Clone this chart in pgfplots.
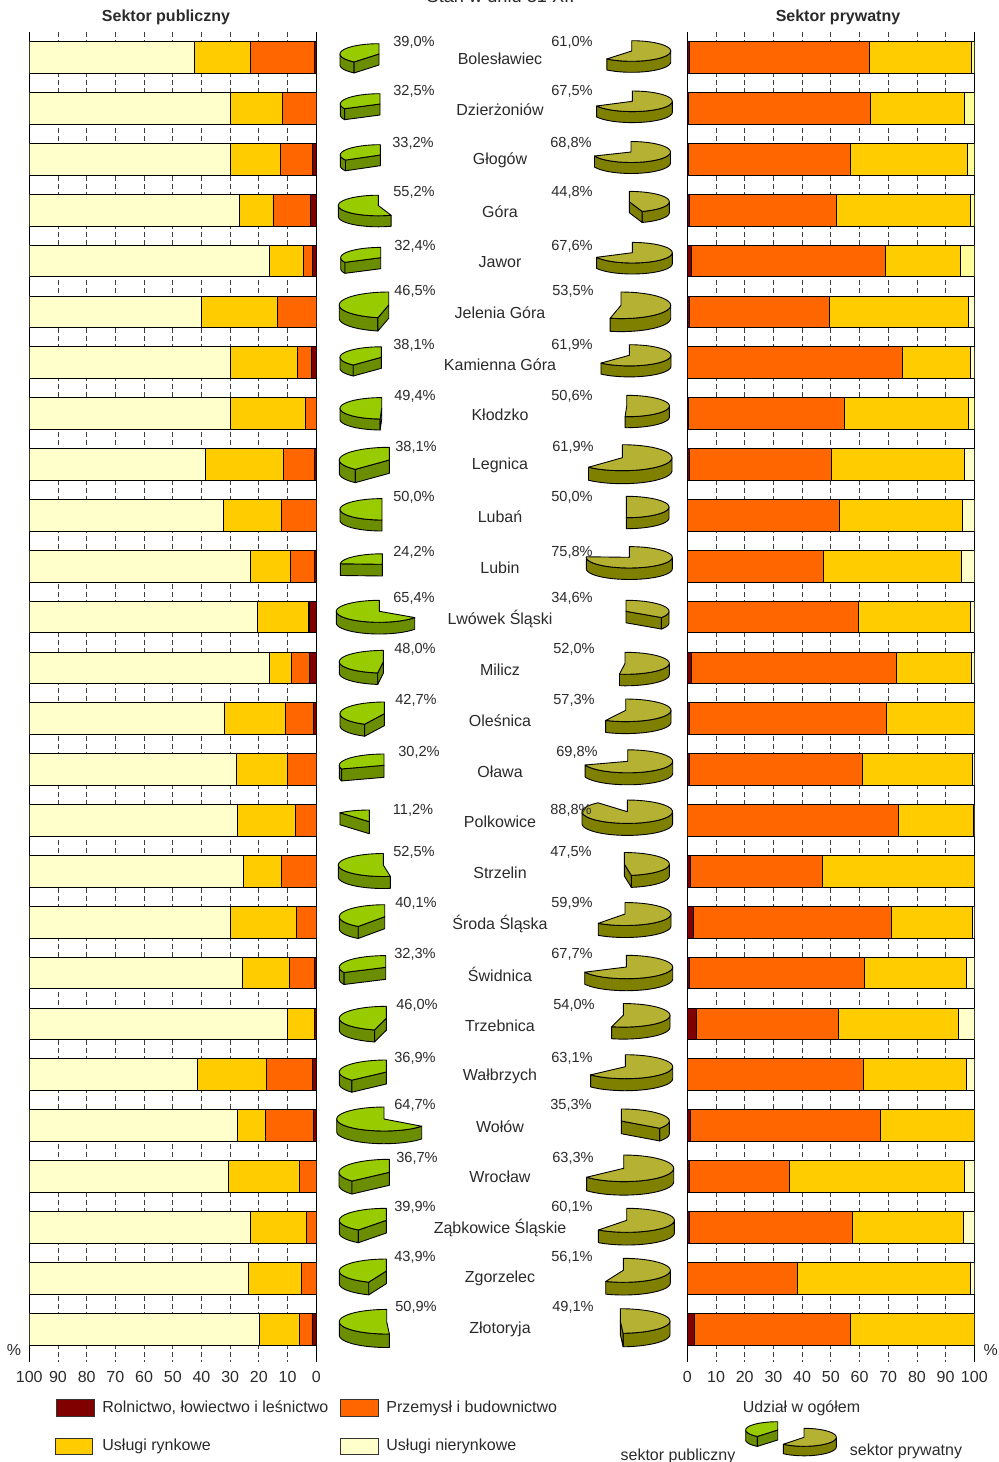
\documentclass[border=0pt]{standalone}
\usepackage{pgfplots}
\usepackage{pgfplotstable}
\usepackage{fontspec}
\setmainfont{Liberation Sans}
\pgfplotsset{compat=1.18}
\definecolor{cR}{HTML}{800000}
\definecolor{cP}{HTML}{FF6600}
\definecolor{cU}{HTML}{FFCC00}
\definecolor{cN}{HTML}{FFFFCC}
\definecolor{cY}{HTML}{FFFF99}
\definecolor{pubT}{HTML}{99CC00}
\definecolor{pubS}{HTML}{6B8E00}
\definecolor{priT}{HTML}{B5B233}
\definecolor{priS}{HTML}{808000}
\definecolor{txt}{HTML}{2A2A2A}
\pgfplotstableread{
row R P U N
0 0.7 22.3 19.5 57.5
1 0 11.8 18.2 70
2 1.3 11.2 17.5 70
3 2.0 13.1 11.8 73.1
4 1.3 3.2 11.9 83.6
5 0 13.6 26.5 59.9
6 1.7 4.9 23.4 70
7 0 3.9 26.1 70
8 0.5 11.1 27 61.4
9 0 12 20.5 67.5
10 0.6 8.5 13.9 77
11 2.4 0.4 17.6 79.6
12 2.3 6.4 7.7 83.6
13 1 9.8 21.2 68
14 0 10.1 17.7 72.2
15 0 7.2 20.1 72.7
16 0 12.2 13.1 74.7
17 0 7 23 70
18 0.5 8.8 16.3 74.4
19 0.5 0 9.7 89.8
20 1.2 16.2 23.9 58.7
21 1 16.8 9.8 72.4
22 0 5.7 25 69.3
23 0 3.3 19.7 77
24 0 5.1 18.4 76.5
25 1.5 4.4 13.8 80.3
}\tblpub
\pgfplotstableread{
row R P U N Y
0 0.7 62.9 35.4 0 1
1 0.4 63.5 32.8 0 3.3
2 0.4 56.5 40.7 0 2.4
3 0.7 51.3 46.7 0 1.3
4 1.4 67.5 26.1 0 5
5 0.7 48.7 48.6 2 0
6 0.1 74.9 23.7 1.3 0
7 0.4 54.5 43.2 0 1.9
8 0.7 49.5 46.5 3.3 0
9 0.2 52.8 43 4 0
10 0.2 47.2 48.2 4.4 0
11 0.2 59.3 39.2 1.3 0
12 1.5 71.3 26.2 1 0
13 0.8 68.7 30.5 0 0
14 0.7 60.4 38.2 0.7 0
15 0 73.6 26.1 0.3 0
16 1 46.2 52.8 0 0
17 2 69.1 28.2 0.7 0
18 0.8 60.8 35.6 2.8 0
19 3.1 49.6 41.8 5.5 0
20 0.2 61.1 35.9 2.8 0
21 1.2 66.2 32.6 0 0
22 0.6 35.1 61 3.3 0
23 0.8 56.8 38.6 3.8 0
24 0.2 38.2 60.3 1.3 0
25 2.4 54.6 43 0 0
}\tblpriv
\pgfplotsset{
  barax/.style={
    scale only axis, width=143.5pt, height=665pt,
    xbar stacked, bar width=15.85pt,
    xmin=0, xmax=100, ymin=-0.497, ymax=25.653, y dir=reverse,
    ytick=\empty, xtick={0,10,...,100},
    /pgf/number format/assume math mode=true,
    xmajorgrids, major grid style={black!75, line width=0.4pt, dash pattern=on 2.5pt off 1.5pt},
    xtick style={draw=none}, major tick length=0pt,
    separate axis lines,
    x axis line style={draw=none},
    y axis line style={black, line width=0.5pt},
    xticklabel style={font=\fontsize{8}{9.6}\selectfont, text=txt, anchor=north, yshift=-1.2pt},
  },
  bars/.style={draw=black, line width=0.45pt, fill=#1},
}
% sign cx cy rx ry d pct top side
\newcommand{\pie}[9]{%
  \ifdim #7pt>25pt
  \addplot[draw=black, line width=0.45pt, line join=round, fill=#9, domain=0:49, samples=50, variable=\t]
    ({#2 #1 #4*sin(90+(min(#7*3.6,270)-90)*(\t<24.5 ? \t : 49-\t)/24)},
     {#3-#5*cos(90+(min(#7*3.6,270)-90)*(\t<24.5 ? \t : 49-\t)/24)+(\t>24.5 ? #6 : 0)}) -- cycle;
  \fi
  \ifdim #7pt<50pt
  \addplot[draw=black, line width=0.45pt, line join=round, fill=#9, domain=0:3, samples=4, variable=\t]
    ({(\t>0.5 && \t<2.5) ? #2 #1 #4*sin(#7*3.6) : #2},
     {\t<0.5 ? #3 : (\t<1.5 ? #3-#5*cos(#7*3.6) : (\t<2.5 ? #3-#5*cos(#7*3.6)+#6 : #3+#6))}) -- cycle;
  \fi
  \addplot[draw=black, line width=0.45pt, line join=round, fill=#8, domain=0:31, samples=32, variable=\t]
    ({\t>30.5 ? #2 : #2 #1 #4*sin(#7*3.6*\t/30)},
     {\t>30.5 ? #3 : #3-#5*cos(#7*3.6*\t/30)}) -- cycle;
}
\newcommand{\pub}[6]{\pie{-}{#1}{#2}{#3}{#4}{#5}{#6}{pubT}{pubS}}
\newcommand{\pri}[6]{\pie{+}{#1}{#2}{#3}{#4}{#5}{#6}{priT}{priS}}
\newcommand{\lab}[3]{\node[anchor=base, inner sep=0pt, text=txt, font=\fontsize{8}{9.6}\selectfont] at (axis cs:#1,#2+6) {#3};}
\newcommand{\plab}[3]{\node[anchor=base, inner sep=0pt, text=txt, font=\fontsize{7.3}{8.8}\selectfont] at (axis cs:#1,#2+5.5) {#3};}
\newcommand{\swatch}[5]{\draw[black!80!white, line width=0.5pt, fill=#5] (axis cs:#1,#2) rectangle (axis cs:#3,#4);}
\begin{document}
\begin{tikzpicture}[x=1pt,y=1pt]
\useasboundingbox (0,0) rectangle (499.5pt,731pt);
\begin{axis}[barax, at={(14.65pt,49.85pt)}, anchor=south west, x dir=reverse]
\addplot[bars=cR] table[x=R,y=row]{\tblpub};
\addplot[bars=cP] table[x=P,y=row]{\tblpub};
\addplot[bars=cU] table[x=U,y=row]{\tblpub};
\addplot[bars=cN] table[x=N,y=row]{\tblpub};
\end{axis}
\begin{axis}[barax, at={(343.65pt,49.85pt)}, anchor=south west]
\addplot[bars=cR] table[x=R,y=row]{\tblpriv};
\addplot[bars=cP] table[x=P,y=row]{\tblpriv};
\addplot[bars=cU] table[x=U,y=row]{\tblpriv};
\addplot[bars=cN] table[x=N,y=row]{\tblpriv};
\addplot[bars=cY] table[x=Y,y=row]{\tblpriv};
\end{axis}
\begin{axis}[at={(0pt,0pt)}, anchor=south west, scale only axis, width=499.5pt, height=731pt,
  hide axis, xmin=0, xmax=999, ymin=0, ymax=1462, y dir=reverse, clip=false]
\pub{379}{54}{39}{10.3}{11}{39.0}
\pri{631.7}{51}{39}{10.3}{11}{61.0}
\pub{380}{104}{39.7}{10.3}{11}{32.5}
\pri{632.3}{101.3}{40}{10.3}{11}{67.5}
\pub{380.3}{155}{40}{10.3}{10.7}{33.2}
\pri{631}{152}{39.5}{10.5}{11}{68.8}
\pub{378.3}{205.5}{40}{10.3}{11}{55.2}
\pri{629.3}{201.7}{40}{10.3}{11}{44.8}
\pub{380.7}{257.7}{40}{10.3}{11}{32.4}
\pri{632.3}{252.7}{40}{10.3}{11}{67.6}
\pub{388.7}{305}{49.5}{13}{13.3}{46.5}
\pri{621}{305.3}{49.7}{13.3}{13}{53.5}
\pub{381.3}{357.3}{41.3}{10.5}{11}{38.1}
\pri{629.3}{355.3}{41.7}{10.6}{11}{61.9}
\pub{381.7}{408.3}{41.7}{10.7}{11}{49.4}
\pri{626.7}{406}{42.7}{10.7}{11}{50.6}
\pub{389.3}{460}{50}{12.7}{13.3}{38.1}
\pri{622.3}{457.7}{49.7}{13}{13}{61.9}
\pub{382}{509.3}{42}{10.7}{11}{50.0}
\pri{626.3}{507}{42.7}{10.7}{11}{50.0}
\pub{382.3}{564.3}{42}{10.5}{11.7}{24.2}
\pri{629.3}{557.3}{43}{10.7}{11.5}{75.8}
\pub{379.3}{611.3}{43}{11}{11.7}{65.4}
\pri{626}{611.3}{43}{11}{11.5}{34.6}
\pub{383.3}{661.7}{44}{11.3}{11.5}{48.0}
\pri{625}{663.3}{44.3}{11}{11.5}{52.0}
\pub{384.3}{713.7}{44.3}{11.7}{12}{42.7}
\pri{625.7}{710.3}{45.3}{11.3}{12}{57.3}
\pub{384}{765.3}{44.7}{11.3}{12}{30.2}
\pri{627.7}{761.3}{45}{11.5}{12}{69.8}
\pub{369.3}{821.7}{45.3}{11.7}{12}{11.2}
\pri{627.3}{811.7}{45.3}{11.7}{12}{88.8}
\pub{383.3}{865}{45}{11.5}{12}{52.5}
\pri{624.3}{864}{45}{11.5}{12}{47.5}
\pub{384.7}{916.7}{45.4}{12}{12}{40.1}
\pri{625}{914}{46}{11.5}{12}{59.9}
\pub{385.7}{967.3}{46.4}{11.7}{12}{32.3}
\pri{626.3}{967}{46.4}{11.7}{12}{67.7}
\pub{386.3}{1018.3}{47}{12}{12}{46.0}
\pri{623.3}{1015.3}{46.7}{11.8}{12}{54.0}
\pub{386.3}{1072}{47}{12}{12}{36.9}
\pri{625.3}{1066.7}{47.4}{12}{12}{63.1}
\pub{384}{1119}{47.3}{12}{12.7}{64.7}
\pri{621.3}{1121}{48}{12}{12.7}{35.3}
\pub{389.3}{1172.3}{50.3}{13}{13}{36.7}
\pri{623.7}{1168.3}{50}{13.3}{13.5}{63.3}
\pub{386.3}{1220.3}{47}{12}{12.7}{39.9}
\pri{626.7}{1220.3}{47.7}{12}{12.7}{60.1}
\pub{386.3}{1271}{47}{12}{12.7}{43.9}
\pri{623.3}{1270.3}{47}{12}{12.7}{56.1}
\pub{386.7}{1321.7}{47.4}{12.3}{13.5}{50.9}
\pri{620.3}{1321}{49.7}{12.3}{13.5}{49.1}
% legend pies
\pub{777.7}{1430}{32}{8.3}{10}{39.0}
\pri{804}{1437.3}{32.3}{9}{9.5}{61.0}
% percent labels
\plab{414}{41}{39,0\%}\plab{572}{41}{61,0\%}
\plab{414}{90}{32,5\%}\plab{572}{90}{67,5\%}
\plab{413}{142}{33,2\%}\plab{571}{142}{68,8\%}
\plab{414}{191}{55,2\%}\plab{572}{191}{44,8\%}
\plab{415}{245}{32,4\%}\plab{572}{245}{67,6\%}
\plab{415}{290}{46,5\%}\plab{573}{290}{53,5\%}
\plab{414}{344}{38,1\%}\plab{572}{344}{61,9\%}
\plab{415}{395}{49,4\%}\plab{572}{395}{50,6\%}
\plab{416}{446}{38,1\%}\plab{573}{446}{61,9\%}
\plab{414}{496}{50,0\%}\plab{572}{496}{50,0\%}
\plab{414}{551}{24,2\%}\plab{572}{551}{75,8\%}
\plab{414}{597}{65,4\%}\plab{572}{597}{34,6\%}
\plab{415}{648}{48,0\%}\plab{574}{648}{52,0\%}
\plab{416}{699}{42,7\%}\plab{574}{699}{57,3\%}
\plab{419}{751}{30,2\%}\plab{577}{751}{69,8\%}
\plab{413}{809}{11,2\%}\plab{571}{809}{88,8\%}
\plab{414}{851}{52,5\%}\plab{571}{851}{47,5\%}
\plab{416}{902}{40,1\%}\plab{572}{902}{59,9\%}
\plab{415}{953}{32,3\%}\plab{572}{953}{67,7\%}
\plab{417}{1004}{46,0\%}\plab{574}{1004}{54,0\%}
\plab{415}{1057}{36,9\%}\plab{572}{1057}{63,1\%}
\plab{415}{1104}{64,7\%}\plab{571}{1104}{35,3\%}
\plab{417}{1157}{36,7\%}\plab{573}{1157}{63,3\%}
\plab{415}{1206}{39,9\%}\plab{572}{1206}{60,1\%}
\plab{415}{1256}{43,9\%}\plab{572}{1256}{56,1\%}
\plab{416}{1306}{50,9\%}\plab{573}{1306}{49,1\%}
% names
\lab{500}{58}{Bolesławiec}
\lab{500}{109}{Dzierżoniów}
\lab{500}{158}{Głogów}
\lab{500}{211}{Góra}
\lab{500}{261}{Jawor}
\lab{500}{312}{Jelenia Góra}
\lab{500}{364}{Kamienna Góra}
\lab{500}{414}{Kłodzko}
\lab{500}{463}{Legnica}
\lab{500}{516}{Lubań}
\lab{500}{567}{Lubin}
\lab{500}{618}{Lwówek Śląski}
\lab{500}{669}{Milicz}
\lab{500}{720}{Oleśnica}
\lab{500}{771}{Oława}
\lab{500}{821}{Polkowice}
\lab{500}{872}{Strzelin}
\lab{500}{923}{Środa Śląska}
\lab{500}{975}{Świdnica}
\lab{500}{1025}{Trzebnica}
\lab{500}{1074}{Wałbrzych}
\lab{500}{1126}{Wołów}
\lab{500}{1176}{Wrocław}
\lab{500}{1227}{Ząbkowice Śląskie}
\lab{500}{1276}{Zgorzelec}
\lab{500}{1327}{Złotoryja}
% titles
\node[anchor=base, inner sep=0pt, text=txt, font=\fontsize{8}{10}\selectfont\bfseries] at (axis cs:166,21.5) {Sektor publiczny};
\node[anchor=base, inner sep=0pt, text=txt, font=\fontsize{8}{10}\selectfont\bfseries] at (axis cs:838,21.5) {Sektor prywatny};
\node[anchor=base, inner sep=0pt, text=txt, font=\fontsize{9.1}{10.9}\selectfont] at (axis cs:500.5,2.7) {Stan w dniu 31 XII};
\lab{14}{1349}{\%}
\lab{990.7}{1349}{\%}
% legend
\swatch{56}{1399.5}{94}{1416}{cR}
\swatch{340}{1399.5}{378}{1416}{cP}
\swatch{55}{1438}{92.5}{1454}{cU}
\swatch{340}{1438}{378}{1454}{cN}
\node[anchor=base west, inner sep=0pt, text=txt, font=\fontsize{8}{9.6}\selectfont] at (axis cs:102,1412.3) {Rolnictwo, łowiectwo i leśnictwo};
\node[anchor=base west, inner sep=0pt, text=txt, font=\fontsize{8}{9.6}\selectfont] at (axis cs:386,1412.3) {Przemysł i budownictwo};
\node[anchor=base west, inner sep=0pt, text=txt, font=\fontsize{8}{9.6}\selectfont] at (axis cs:102,1450) {Usługi rynkowe};
\node[anchor=base west, inner sep=0pt, text=txt, font=\fontsize{8}{9.6}\selectfont] at (axis cs:386,1450) {Usługi nierynkowe};
\lab{801.5}{1406}{Udział w ogółem}
\lab{678}{1454}{sektor publiczny}
\lab{906}{1449}{sektor prywatny}
\end{axis}
\end{tikzpicture}
\end{document}
